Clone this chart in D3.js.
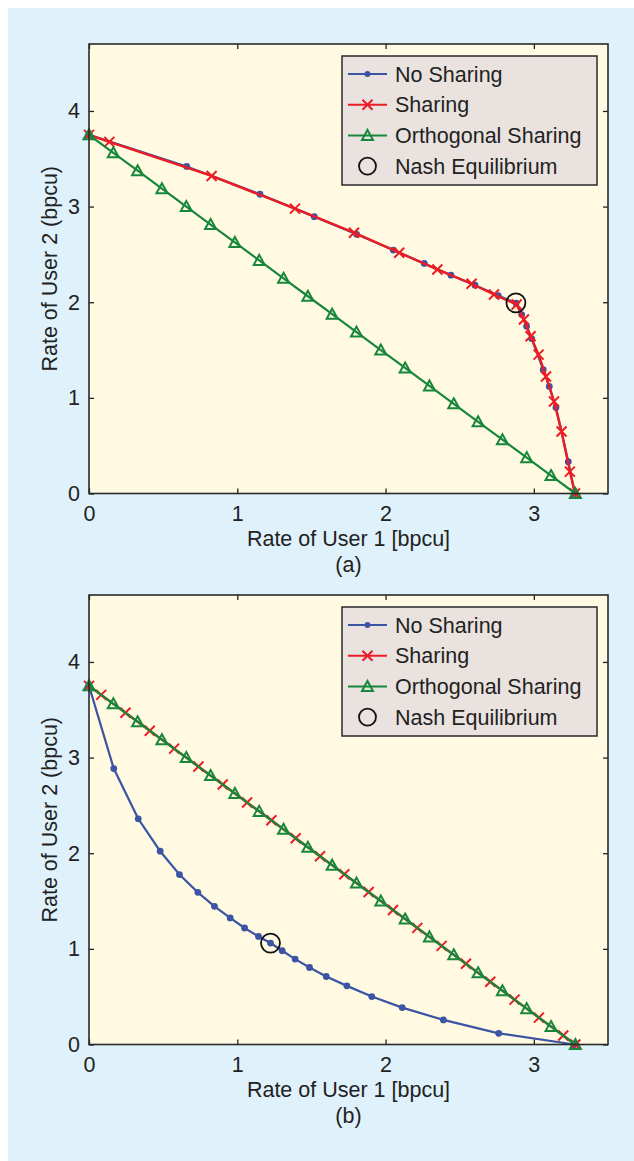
<!DOCTYPE html>
<html>
<head>
<meta charset="utf-8">
<script src="https://cdn.jsdelivr.net/npm/d3@7"></script>
<style>
  body { margin: 0; background: #fff; }
  svg { display: block; font-family: "Liberation Sans", Arial, sans-serif; }
</style>
</head>
<body>
<div id="chart"></div>
<script>
// axis ticks
var xTicks = [0, 1, 2, 3];
var yTicks = [0, 1, 2, 3, 4];

// panel (a)
var noSharingA = [[0,3.75],[0.659,3.42],[1.153,3.129],[1.519,2.895],[1.805,2.71],[2.052,2.545],[2.261,2.406],
  [2.441,2.283],[2.603,2.178],[2.76,2.07],[2.88,1.99],[2.918,1.871],[2.951,1.748],[2.985,1.62],[3.063,1.295],
  [3.104,1.12],[3.149,0.9],[3.232,0.333],[3.277,0]];
var sharingA = [[0,3.75],[0.137,3.677],[0.827,3.32],[1.389,2.979],[1.787,2.727],[2.092,2.518],[2.349,2.343],
  [2.58,2.193],[2.731,2.081],[2.884,1.976],[2.933,1.819],[2.978,1.644],[3.032,1.452],[3.082,1.224],
  [3.136,0.962],[3.187,0.648],[3.243,0.229],[3.277,0]];
var orthogonalA = [[0,3.75],[0.164,3.5625],[0.328,3.375],[0.492,3.1875],[0.656,3.0],[0.82,2.8125],[0.984,2.625],
  [1.148,2.4375],[1.312,2.25],[1.476,2.0625],[1.64,1.875],[1.804,1.6875],[1.968,1.5],[2.132,1.3125],
  [2.296,1.125],[2.46,0.9375],[2.624,0.75],[2.788,0.5625],[2.952,0.375],[3.116,0.1875],[3.28,0]];
var nashA = [[2.879,1.994]];

// panel (b)
var noSharingB = [[0,3.75],[0.167,2.885],[0.332,2.36],[0.48,2.021],[0.61,1.777],[0.734,1.591],[0.846,1.445],
  [0.952,1.323],[1.049,1.218],[1.143,1.13],[1.224,1.061],[1.303,0.98],[1.39,0.893],[1.487,0.805],[1.6,0.711],
  [1.739,0.613],[1.907,0.501],[2.112,0.386],[2.39,0.257],[2.763,0.117],[3.274,0]];
var sharingB = [[0,3.75],[0.082,3.656],[0.246,3.469],[0.41,3.281],[0.574,3.094],[0.738,2.906],[0.902,2.719],
  [1.066,2.531],[1.23,2.344],[1.394,2.156],[1.558,1.969],[1.722,1.781],[1.886,1.594],[2.05,1.406],
  [2.214,1.219],[2.378,1.031],[2.542,0.844],[2.706,0.656],[2.87,0.469],[3.034,0.281],[3.198,0.094],[3.28,0]];
var orthogonalB = orthogonalA;
var nashB = [[1.224,1.06]];

var legendNames = ["No Sharing", "Sharing", "Orthogonal Sharing", "Nash Equilibrium"];

var BLUE = "#3b54a4", RED = "#ec1c24", GREEN = "#17873c";
var FS = 21.5;

var svg = d3.select("#chart").append("svg")
  .attr("width", 634)
  .attr("height", 1161);

svg.append("rect")
  .attr("x", 8).attr("y", 8)
  .attr("width", 626).attr("height", 1153)
  .attr("fill", "#dff1fb");

var xScale = d3.scaleLinear().domain([0, 3.5]).range([89, 608]);

function drawPanel(top, caption, noSharing, sharing, orthogonal, nash) {
  var bottom = top + 449.5;
  var yScale = d3.scaleLinear().domain([0, 4.7]).range([bottom, top]);
  var g = svg.append("g");

  g.append("rect")
    .attr("x", 89).attr("y", top)
    .attr("width", 519).attr("height", bottom - top)
    .attr("fill", "#fffae1");

  var line = d3.line()
    .x(function (d) { return xScale(d[0]); })
    .y(function (d) { return yScale(d[1]); });

  // no sharing
  g.append("path").datum(noSharing)
    .attr("d", line).attr("fill", "none")
    .attr("stroke", BLUE).attr("stroke-width", 2.2);
  g.selectAll(".dot").data(noSharing).enter().append("circle")
    .attr("cx", function (d) { return xScale(d[0]); })
    .attr("cy", function (d) { return yScale(d[1]); })
    .attr("r", 3.4).attr("fill", BLUE);

  // sharing
  g.append("path").datum(sharing)
    .attr("d", line).attr("fill", "none")
    .attr("stroke", RED).attr("stroke-width", 2.4);
  g.selectAll(".cross").data(sharing).enter().append("path")
    .attr("transform", function (d) { return "translate(" + xScale(d[0]) + "," + yScale(d[1]) + ")"; })
    .attr("d", "M-5,-5L5,5M-5,5L5,-5")
    .attr("stroke", RED).attr("stroke-width", 2).attr("fill", "none");

  // orthogonal sharing
  g.append("path").datum(orthogonal)
    .attr("d", line).attr("fill", "none")
    .attr("stroke", GREEN).attr("stroke-width", 2.2);
  g.selectAll(".tri").data(orthogonal).enter().append("path")
    .attr("transform", function (d) { return "translate(" + xScale(d[0]) + "," + yScale(d[1]) + ")"; })
    .attr("d", "M0,-5.5L5.5,4.5L-5.5,4.5Z")
    .attr("stroke", GREEN).attr("stroke-width", 2).attr("fill", "none");

  // nash equilibrium
  g.selectAll(".nash").data(nash).enter().append("circle")
    .attr("cx", function (d) { return xScale(d[0]); })
    .attr("cy", function (d) { return yScale(d[1]); })
    .attr("r", 9.5).attr("fill", "none")
    .attr("stroke", "#111").attr("stroke-width", 1.8);

  // axes with inward ticks on all four sides
  var fmt = d3.format("d");
  g.append("g").attr("transform", "translate(0," + bottom + ")")
    .call(d3.axisBottom(xScale).tickValues(xTicks).tickFormat(fmt).tickSizeInner(-5).tickSizeOuter(0).tickPadding(12));
  g.append("g").attr("transform", "translate(0," + top + ")")
    .call(d3.axisTop(xScale).tickValues(xTicks).tickSizeInner(-5).tickSizeOuter(0).tickFormat(""));
  g.append("g").attr("transform", "translate(89,0)")
    .call(d3.axisLeft(yScale).tickValues(yTicks).tickFormat(fmt).tickSizeInner(-5).tickSizeOuter(0).tickPadding(9));
  g.append("g").attr("transform", "translate(608,0)")
    .call(d3.axisRight(yScale).tickValues(yTicks).tickSizeInner(-5).tickSizeOuter(0).tickFormat(""));
  g.selectAll(".domain").remove();
  g.selectAll(".tick line").attr("stroke", "#222").attr("stroke-width", 1.3);
  g.selectAll(".tick text").attr("font-size", FS).attr("fill", "#222")
    .attr("font-family", "Liberation Sans, Arial, sans-serif");

  g.append("rect")
    .attr("x", 89).attr("y", top)
    .attr("width", 519).attr("height", bottom - top)
    .attr("fill", "none").attr("stroke", "#2a2a2a").attr("stroke-width", 1.6);

  // legend
  var lg = g.append("g").attr("transform", "translate(342," + (top + 12) + ")");
  lg.append("rect")
    .attr("width", 255).attr("height", 129)
    .attr("fill", "#e9e2df").attr("stroke", "#2a2a2a").attr("stroke-width", 1.5);
  var rows = lg.selectAll(".row").data(legendNames).enter().append("g")
    .attr("transform", function (d, i) { return "translate(0," + (18 + i * 30.7) + ")"; });
  rows.append("text")
    .attr("x", 53).attr("y", 7.5)
    .attr("font-size", FS).attr("fill", "#222")
    .text(function (d) { return d; });
  var colors = [BLUE, RED, GREEN];
  rows.filter(function (d, i) { return i < 3; }).append("line")
    .attr("x1", 6).attr("x2", 45)
    .attr("stroke", function (d, i) { return colors[i]; }).attr("stroke-width", 2);
  rows.filter(function (d, i) { return i === 0; }).append("circle")
    .attr("cx", 25.5).attr("r", 3).attr("fill", BLUE);
  rows.filter(function (d, i) { return i === 1; }).append("path")
    .attr("d", "M20.5,-5L30.5,5M20.5,5L30.5,-5")
    .attr("stroke", RED).attr("stroke-width", 2);
  rows.filter(function (d, i) { return i === 2; }).append("path")
    .attr("d", "M25.5,-5.5L31,4.5L20,4.5Z")
    .attr("stroke", GREEN).attr("stroke-width", 2).attr("fill", "none");
  rows.filter(function (d, i) { return i === 3; }).append("circle")
    .attr("cx", 25.5).attr("r", 8.5).attr("fill", "none")
    .attr("stroke", "#111").attr("stroke-width", 1.8);

  // axis labels
  g.append("text")
    .attr("x", 348.5).attr("y", bottom + 52)
    .attr("text-anchor", "middle").attr("font-size", FS).attr("fill", "#222")
    .text("Rate of User 1 [bpcu]");
  g.append("text")
    .attr("x", 348.5).attr("y", bottom + 78)
    .attr("text-anchor", "middle").attr("font-size", FS).attr("fill", "#222")
    .text(caption);
  g.append("text")
    .attr("transform", "translate(57," + ((top + bottom) / 2) + ") rotate(-90)")
    .attr("text-anchor", "middle").attr("font-size", FS).attr("fill", "#222")
    .text("Rate of User 2 (bpcu)");
}

drawPanel(44, "(a)", noSharingA, sharingA, orthogonalA, nashA);
drawPanel(595, "(b)", noSharingB, sharingB, orthogonalB, nashB);
</script>
</body>
</html>
